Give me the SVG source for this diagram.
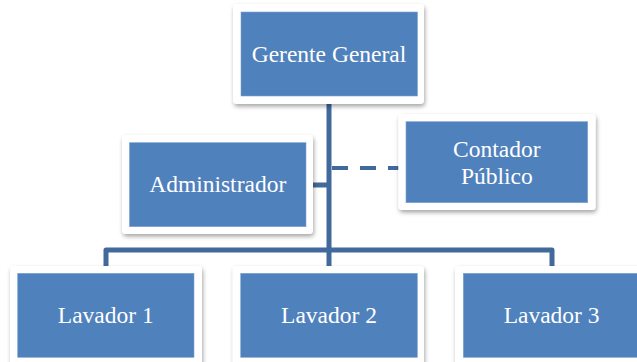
<svg xmlns="http://www.w3.org/2000/svg" width="637" height="362" viewBox="0 0 637 362">
<defs>
<filter id="sh" x="-10%" y="-10%" width="125%" height="130%">
<feDropShadow dx="1" dy="2.5" stdDeviation="2" flood-color="#000" flood-opacity="0.35"/>
</filter>
<style>
.card{fill:#fff;filter:url(#sh)}
.box{fill:#4F81BD;stroke:#7FA2D0;stroke-width:0.6}
.lbl{fill:#fff;font-family:"Liberation Serif","Times New Roman",serif;font-size:23.5px;text-anchor:middle}
.ln{fill:none;stroke:#41699C;stroke-width:5;stroke-linejoin:round}
.dash{fill:none;stroke:#41699C;stroke-width:4;stroke-dasharray:16 12}
</style>
</defs>
<rect width="637" height="362" fill="#fff"/>
<g id="connectors">
<path class="ln" d="M329,104 V266"/>
<path class="ln" d="M306,185 H329"/>
<path class="dash" d="M332,168 H406"/>
<path class="ln" d="M106,266 V250 H552 V266"/>
</g>
<g id="gerente">
<rect class="card" x="233" y="4" width="191" height="100" rx="4"/>
<rect class="box" x="241" y="12" width="176.5" height="84"/>
<text class="lbl" x="329" y="61.5">Gerente General</text>
</g>
<g id="administrador">
<rect class="card" x="122" y="135" width="191" height="99" rx="4"/>
<rect class="box" x="129.5" y="142.7" width="176.5" height="84"/>
<text class="lbl" x="217.7" y="191.7">Administrador</text>
</g>
<g id="contador">
<rect class="card" x="398.3" y="114" width="197.4" height="96" rx="4"/>
<rect class="box" x="406" y="121.7" width="181.7" height="81"/>
<text class="lbl" x="496.8" y="156.7">Contador</text>
<text class="lbl" x="496.8" y="184">Público</text>
</g>
<g id="lavador1">
<rect class="card" x="10" y="266" width="192" height="104" rx="4"/>
<rect class="box" x="17.7" y="273.3" width="176.3" height="84"/>
<text class="lbl" x="105.8" y="322.7">Lavador 1</text>
</g>
<g id="lavador2">
<rect class="card" x="232.7" y="266" width="191.3" height="104" rx="4"/>
<rect class="box" x="240.7" y="273.3" width="176.6" height="84"/>
<text class="lbl" x="329" y="322.7">Lavador 2</text>
</g>
<g id="lavador3">
<rect class="card" x="455" y="266" width="192" height="104" rx="4"/>
<rect class="box" x="463.3" y="273.3" width="176.6" height="84"/>
<text class="lbl" x="551.6" y="322.7">Lavador 3</text>
</g>
</svg>
